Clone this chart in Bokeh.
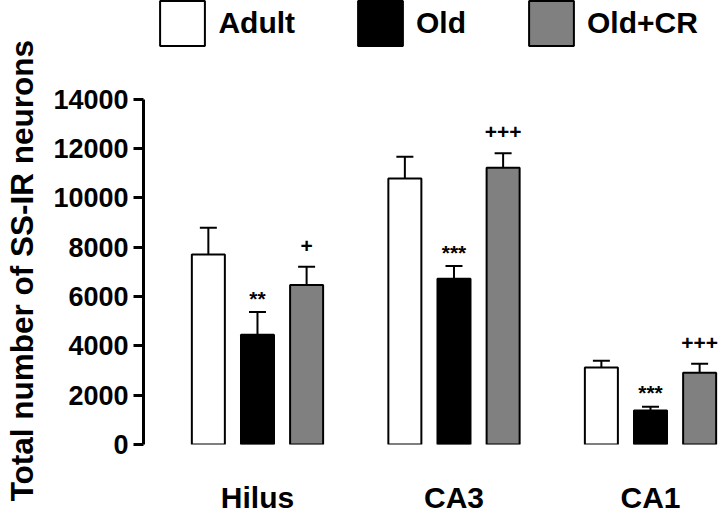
from bokeh.plotting import figure
from bokeh.models import (Range1d, FixedTicker, Whisker, TeeHead, ColumnDataSource,
                          Legend, LegendItem)
from bokeh.core.properties import value
from bokeh.embed import file_html
from bokeh.resources import INLINE

# ---- data ----
regions = ["Hilus", "CA3", "CA1"]
groups = ["Adult", "Old", "Old+CR"]
adult = [7700, 10780, 3120]
old = [4450, 6720, 1380]
old_cr = [6460, 11220, 2910]
adult_err = [1080, 880, 270]
old_err = [920, 510, 150]
old_cr_err = [740, 580, 360]
old_marks = ["**", "***", "***"]
old_cr_marks = ["+", "+++", "+++"]
y_ticks = [0, 2000, 4000, 6000, 8000, 10000, 12000, 14000]
y_label = "Total number of SS-IR neurons"
colors = ["white", "black", "#808080"]

FONT = "Liberation Sans"

# frame reaches the top of the canvas so the legend (inside it) is not clipped;
# the visible axis line stops at 14000
p = figure(width=718, height=516, output_backend="svg", toolbar_location=None,
           x_range=Range1d(-0.580, 2.346), y_range=Range1d(0, 17994),
           min_border_left=143, min_border_right=0, min_border_top=0,
           min_border_bottom=70, margin=(0, 0, 0, 0))
p.outline_line_color = None
p.grid.visible = False
p.background_fill_color = "white"
p.border_fill_color = "white"

series = [adult, old, old_cr]
errors = [adult_err, old_err, old_cr_err]
offsets = [-0.25, 0.0, 0.25]
bar_renderers = []
for vals, errs, off, col in zip(series, errors, offsets, colors):
    xs = [i + off for i in range(len(regions))]
    src = ColumnDataSource(dict(x=xs, top=vals, upper=[v + e for v, e in zip(vals, errs)]))
    w = Whisker(source=src, base="x", lower="top", upper="upper", dimension="height",
                line_width=2, line_color="black",
                upper_head=TeeHead(size=17, line_width=2, line_color="black"),
                lower_head=None)
    p.add_layout(w)
    r = p.vbar(x="x", top="top", bottom=0, width=0.168, source=src,
               fill_color=col, line_color="black", line_width=2)
    bar_renderers.append(r)

# significance marks
def marks(vals, errs, off, labels, shift):
    xs = [i + off for i in range(len(regions))]
    ys = [v + e + shift for v, e in zip(vals, errs)]
    p.text(x=xs, y=ys, text=labels, text_align="center", text_baseline="alphabetic",
           text_font=value(FONT), text_font_style="bold", text_font_size="21px",
           text_color="black")

marks(old, old_err, 0.0, old_marks, 560)
marks(old_cr, old_cr_err, 0.25, old_cr_marks, 860)

# axes
ya = p.yaxis[0]
ya.ticker = FixedTicker(ticks=y_ticks)
ya.bounds = (0, 14000)
ya.axis_line_width = 3
ya.major_tick_line_width = 3
ya.major_tick_out = 10
ya.major_tick_in = 0
ya.minor_tick_line_color = None
ya.major_label_standoff = 5
ya.major_label_text_font = FONT
ya.major_label_text_font_size = "27px"
ya.major_label_text_font_style = "bold"
ya.major_label_text_color = "black"
# trailing no-break spaces move the centred label down to the middle of the 0-14000 span
ya.axis_label = y_label + "\u00a0" * 11
ya.axis_label_text_font = FONT
ya.axis_label_text_font_size = "31.5px"
ya.axis_label_text_font_style = "bold"
ya.axis_label_text_color = "black"
ya.axis_label_standoff = 10

xa = p.xaxis[0]
xa.ticker = FixedTicker(ticks=[0, 1, 2])
xa.major_label_overrides = {i: name for i, name in enumerate(regions)}
xa.axis_line_color = None
xa.major_tick_line_color = None
xa.minor_tick_line_color = None
xa.major_tick_out = 0
xa.major_tick_in = 0
xa.major_label_standoff = 36
xa.major_label_text_font = FONT
xa.major_label_text_font_size = "30px"
xa.major_label_text_font_style = "bold"
xa.major_label_text_color = "black"

legend = Legend(items=[LegendItem(label=g, renderers=[r]) for g, r in zip(groups, bar_renderers)],
                orientation="horizontal", location=(11.4, 393.5),
                glyph_width=56, glyph_height=56, label_standoff=8, spacing=57,
                padding=0, margin=0, border_line_color=None, background_fill_alpha=0,
                label_text_font=FONT, label_text_font_size="30px",
                label_text_font_style="bold", label_text_color="black")
p.add_layout(legend)

open("out.html", "w").write(file_html(p, INLINE))
